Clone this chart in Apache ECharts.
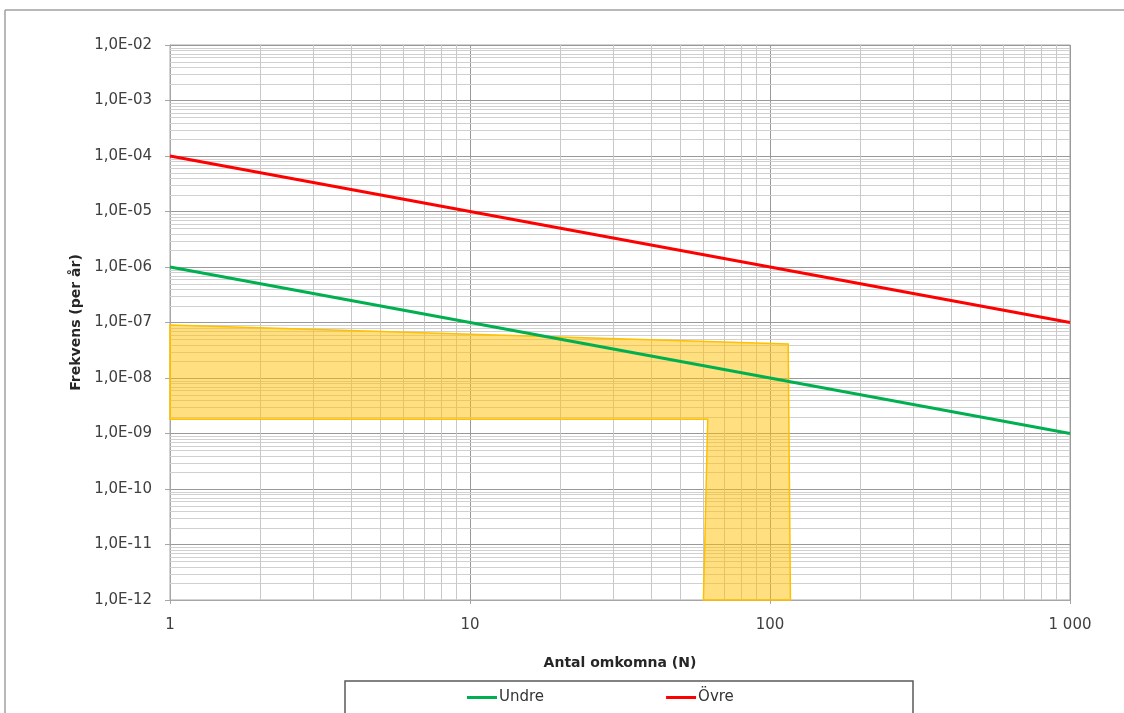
<!DOCTYPE html>
<html>
<head>
<meta charset="utf-8">
<script src="https://cdn.jsdelivr.net/npm/echarts@6/dist/echarts.min.js"></script>
<style>
html,body{margin:0;padding:0;background:#fff;}
#chart{width:1124px;height:713px;}
</style>
</head>
<body>
<div id="chart"></div>
<script>
// Data
const seriesNames = ['Undre', 'Övre'];
const undreN = [1, 1000];
const undreF = [1e-6, 1e-9];
const ovreN = [1, 1000];
const ovreF = [1e-4, 1e-7];
// Shaded area (polygon vertices, N and frequency)
const areaN = [1, 115, 117, 60, 62, 1];
const areaF = [9e-8, 4.1e-8, 1e-12, 1e-12, 1.8e-9, 1.8e-9];
// Axis ranges / tick labels
const xTicks = [1, 10, 100, 1000];
const xTickLabels = ['1', '10', '100', '1 000'];
const xMin = 1, xMax = 1000;
const yMinExp = -12, yMaxExp = -2;

const font = '"DejaVu Sans", "Liberation Sans", sans-serif';

function yLabel(v) {
  const e = Math.round(Math.log10(v));
  const a = Math.abs(e);
  return '1,0E' + (e < 0 ? '-' : '+') + (a < 10 ? '0' + a : '' + a);
}
function xLabel(v) {
  const i = xTicks.findIndex(t => Math.abs(t - v) < 1e-9 * t);
  return i >= 0 ? xTickLabels[i] : '';
}

// Minor grid values (2..9 × 10^n)
const yMinor = [];
for (let e = yMinExp; e < yMaxExp; e++) for (let k = 2; k <= 9; k++) yMinor.push(k * Math.pow(10, e));
const xMinor = [];
for (let e = 0; e < 3; e++) for (let k = 2; k <= 9; k++) xMinor.push(k * Math.pow(10, e));
const yLo = Math.pow(10, yMinExp), yHi = Math.pow(10, yMaxExp);

const chart = echarts.init(document.getElementById('chart'), null, {renderer: 'canvas'});
const option = {
  animation: false,
  backgroundColor: '#ffffff',
  grid: {left: 170, right: 54, top: 45, bottom: 113, show: true, borderColor: '#a6a6a6', borderWidth: 1, backgroundColor: 'transparent'},
  graphic: [
    {type: 'line', shape: {x1: 5, y1: 10, x2: 1124, y2: 10}, style: {stroke: '#a0a0a0', lineWidth: 1.5}, z: -1, silent: true},
    {type: 'line', shape: {x1: 5, y1: 10, x2: 5, y2: 713}, style: {stroke: '#a0a0a0', lineWidth: 1.5}, z: -1, silent: true},
    {type: 'rect', shape: {x: 345, y: 681, width: 568, height: 60}, style: {fill: '#fff', stroke: '#5a5a5a', lineWidth: 1.5}, z: 0, silent: true}
  ],
  legend: {
    data: seriesNames,
    left: 467, top: 690, padding: 0,
    icon: 'rect', itemWidth: 30, itemHeight: 3, itemGap: 122,
    textStyle: {fontFamily: font, fontSize: 15, color: '#333', padding: [0, 0, 0, -3]},
    z: 10
  },
  xAxis: {
    type: 'log', logBase: 10, min: xMin, max: xMax,
    name: 'Antal omkomna (N)', nameLocation: 'middle', nameGap: 56,
    nameTextStyle: {fontFamily: font, fontSize: 14, fontWeight: 'bold', color: '#262626'},
    axisLine: {show: true, lineStyle: {color: '#a6a6a6', width: 1}},
    axisTick: {show: true, length: 4, lineStyle: {color: '#a6a6a6'}},
    axisLabel: {formatter: xLabel, margin: 18, fontFamily: font, fontSize: 15, color: '#404040'},
    splitLine: {show: true, lineStyle: {color: '#999999', width: 1}},
    minorTick: {show: false}, minorSplitLine: {show: false}
  },
  yAxis: {
    type: 'log', logBase: 10, min: yLo, max: yHi, interval: 1,
    name: 'Frekvens (per år)', nameLocation: 'middle', nameGap: 84,
    nameTextStyle: {fontFamily: font, fontSize: 14, fontWeight: 'bold', color: '#262626'},
    axisLine: {show: true, lineStyle: {color: '#a6a6a6', width: 1}},
    axisTick: {show: true, length: 5, lineStyle: {color: '#a6a6a6'}},
    axisLabel: {formatter: yLabel, margin: 18, fontFamily: font, fontSize: 15, color: '#404040'},
    splitLine: {show: true, lineStyle: {color: '#999999', width: 1}},
    minorTick: {show: false}, minorSplitLine: {show: false}
  },
  series: [
    {
      name: 'gridMinorY', type: 'custom', z: 1, silent: true,
      data: yMinor.map(v => [xMin, v]),
      renderItem: function (params, api) {
        const v = api.value(1);
        const a = api.coord([xMin, v]), b = api.coord([xMax, v]);
        return {type: 'line', shape: {x1: a[0], y1: Math.round(a[1]) + 0.5, x2: b[0], y2: Math.round(b[1]) + 0.5},
          style: {stroke: '#d0d0d0', lineWidth: 1}};
      }
    },
    {
      name: 'gridMinorX', type: 'custom', z: 1, silent: true,
      data: xMinor.map(v => [v, yLo]),
      renderItem: function (params, api) {
        const v = api.value(0);
        const a = api.coord([v, yLo]), b = api.coord([v, yHi]);
        return {type: 'line', shape: {x1: Math.round(a[0]) + 0.5, y1: a[1], x2: Math.round(b[0]) + 0.5, y2: b[1]},
          style: {stroke: '#c8c8c8', lineWidth: 1}};
      }
    },
    {
      name: 'area', type: 'custom', z: 2, silent: true,
      data: [[areaN[0], areaF[0]]],
      renderItem: function (params, api) {
        const pts = areaN.map((n, i) => api.coord([n, areaF[i]]));
        return {type: 'polygon', shape: {points: pts},
          style: {fill: 'rgba(255,192,0,0.5)', stroke: '#FFC000', lineWidth: 1.5}};
      }
    },
    {
      name: seriesNames[0], type: 'line', z: 5, showSymbol: false, symbol: 'none',
      data: undreN.map((n, i) => [n, undreF[i]]),
      lineStyle: {color: '#00B050', width: 3}, itemStyle: {color: '#00B050'}
    },
    {
      name: seriesNames[1], type: 'line', z: 5, showSymbol: false, symbol: 'none',
      data: ovreN.map((n, i) => [n, ovreF[i]]),
      lineStyle: {color: '#FF0000', width: 3}, itemStyle: {color: '#FF0000'}
    }
  ]
};
chart.setOption(option);
</script>
</body>
</html>
